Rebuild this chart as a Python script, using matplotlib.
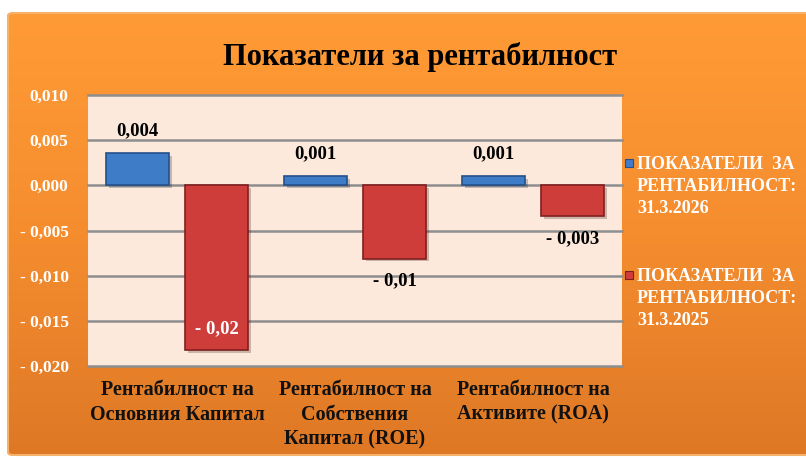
import numpy as np
import matplotlib
matplotlib.use("Agg")
import matplotlib.pyplot as plt
import matplotlib.patheffects as pe
from matplotlib.patches import FancyBboxPatch, Rectangle
from matplotlib.ticker import FixedLocator

# data
categories = ["Рентабилност на\nОсновния Капитал",
              "Рентабилност на\nСобствения\nКапитал (ROE)",
              "Рентабилност на\nАктивите (ROA)"]
vals_2026 = [0.0036, 0.0010, 0.0010]
vals_2025 = [-0.0182, -0.0081, -0.0034]
labels_2026 = ["0,004", "0,001", "0,001"]
labels_2025 = ["- 0,02", "- 0,01", "- 0,003"]
series_names = ["ПОКАЗАТЕЛИ  ЗА\nРЕНТАБИЛНОСТ:\n31.3.2026",
                "ПОКАЗАТЕЛИ  ЗА\nРЕНТАБИЛНОСТ:\n31.3.2025"]
yticks = [0.010, 0.005, 0.000, -0.005, -0.010, -0.015, -0.020]

BLUE, BLUE_E = "#3f7cc8", "#25508a"
RED, RED_E = "#cf3d3b", "#7e1f1f"
FONT = ["Liberation Serif", "DejaVu Serif"]
plt.rcParams["font.family"] = FONT
plt.rcParams["font.weight"] = "bold"

W, H = 806, 458
fig = plt.figure(figsize=(W / 100, H / 100), dpi=100)
fig.patch.set_facecolor("white")

# orange gradient panel
bg = fig.add_axes([0, 0, 1, 1], zorder=0)
bg.set_xlim(0, 1)
bg.set_ylim(0, 1)
bg.axis("off")
grad = np.linspace(0, 1, 256).reshape(-1, 1)
cmap = matplotlib.colors.LinearSegmentedColormap.from_list(
    "org", ["#de7825", "#f58d2f", "#ff9b36"])
panel = FancyBboxPatch((8 / W, 3 / H), 1.2, (455 - 13) / H,
                       boxstyle="round,pad=0,rounding_size=0.006",
                       transform=bg.transAxes, facecolor="none",
                       edgecolor="#f6b26b", linewidth=1.5)
bg.add_patch(panel)
im = bg.imshow(grad, extent=[0, 1, 3 / H, 445 / H], origin="lower",
               cmap=cmap, aspect="auto")
im.set_clip_path(panel)

ax = fig.add_axes([88 / W, 1 - 366 / H, 534 / W, 271 / H], zorder=1)
ax.set_facecolor("#fce9db")
x = np.arange(len(categories))
bw, off = 0.354, 0.222
shadow = [pe.SimplePatchShadow(offset=(2, -2), alpha=0.25), pe.Normal()]
b1 = ax.bar(x - off, vals_2026, bw, color=BLUE, edgecolor=BLUE_E,
            linewidth=1.2, zorder=3, path_effects=shadow)
b2 = ax.bar(x + off, vals_2025, bw, color=RED, edgecolor=RED_E,
            linewidth=1.2, zorder=3, path_effects=shadow)

ax.set_xlim(-0.5, 2.5)
ax.set_ylim(-0.020, 0.010)
ax.yaxis.set_major_locator(FixedLocator(yticks))
ax.set_yticklabels([("- " if t < 0 else "") + f"{abs(t):.3f}".replace(".", ",")
                    for t in yticks], color="white", fontsize=12.5,
                   fontweight="bold")
ax.set_xticks(x)
ax.set_xticklabels(categories, fontsize=14.5, fontweight="bold",
                   color="#111111", linespacing=1.32)
ax.tick_params(axis="y", length=0, pad=14)
ax.tick_params(axis="x", length=0, pad=10)
ax.grid(axis="y", color="#8e8e8e", linewidth=1.8, zorder=1)
for gl in ax.get_ygridlines():
    gl.set_clip_on(False)
for sp in ax.spines.values():
    sp.set_visible(False)

# data labels
for r, t in zip(b1, labels_2026):
    ax.annotate(t, (r.get_x() + r.get_width() / 2, r.get_height()),
                xytext=(0, 16), textcoords="offset points", ha="center",
                va="center", fontsize=13.5, fontweight="bold", color="black")
inside = [True, False, False]
for r, t, ins in zip(b2, labels_2025, inside):
    y = r.get_height()
    ax.annotate(t, (r.get_x() + r.get_width() / 2, y),
                xytext=(0, 15 if ins else -16), textcoords="offset points",
                ha="center", va="center", fontsize=13.5, fontweight="bold",
                color="white" if ins else "black")

# title
fig.text(420 / W, 1 - 57 / H, "Показатели за рентабилност", ha="center",
         va="center", fontsize=22, fontweight="bold", color="black")

# legend
for (ytop, name, fc, ec) in [(163, series_names[0], BLUE, BLUE_E),
                             (275, series_names[1], RED, RED_E)]:
    fig.patches.append(Rectangle((625 / W, 1 - (ytop + 4) / H), 8 / W, 8 / H,
                                 transform=fig.transFigure, facecolor=fc,
                                 edgecolor=ec, linewidth=0.8, zorder=5))
    fig.text(637 / W, 1 - (ytop - 7) / H, name, ha="left", va="top",
             fontsize=13, fontweight="bold", color="white", linespacing=1.4)

fig.savefig("out.png", dpi=100, facecolor="white")
